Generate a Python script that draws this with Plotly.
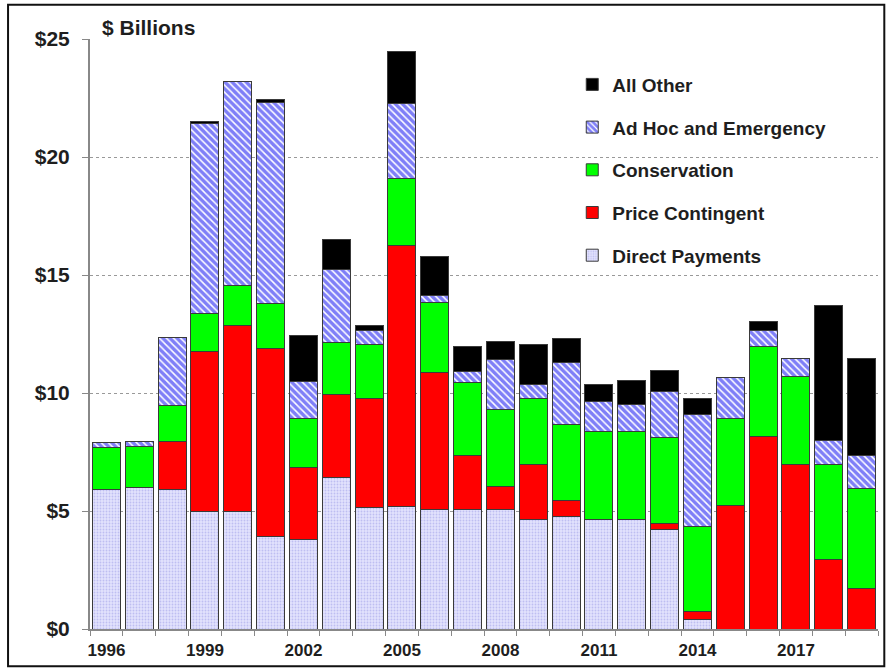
import plotly.graph_objects as go

years = [str(y) for y in range(1996, 2020)]
tick_labels = ["1996", "", "", "1999", "", "", "2002", "", "", "2005", "", "", "2008", "", "",
               "2011", "", "", "2014", "", "", "2017", "", ""]

direct_payments = [5.9, 6.0, 5.9, 5.0, 5.0, 3.9, 3.8, 6.4, 5.15, 5.2, 5.05, 5.05, 5.05, 4.65, 4.75,
                   4.65, 4.65, 4.2, 0.4, 0, 0, 0, 0, 0]
price_contingent = [0, 0, 2.05, 6.75, 7.85, 8.0, 3.05, 3.55, 4.6, 11.05, 5.8, 2.3, 1.0, 2.3, 0.7,
                    0, 0, 0.25, 0.35, 5.25, 8.15, 6.95, 2.95, 1.7]
conservation = [1.8, 1.75, 1.5, 1.6, 1.7, 1.9, 2.05, 2.2, 2.3, 2.85, 3.0, 3.1, 3.25, 2.8, 3.2,
                3.7, 3.7, 3.65, 3.6, 3.65, 3.8, 3.75, 4.0, 4.25]
ad_hoc = [0.2, 0.2, 2.9, 8.05, 8.65, 8.5, 1.6, 3.1, 0.6, 3.15, 0.3, 0.45, 2.1, 0.6, 2.65,
          1.3, 1.15, 1.95, 4.75, 1.75, 0.7, 0.75, 1.05, 1.4]
all_other = [0, 0, 0, 0.1, 0, 0.15, 1.95, 1.25, 0.2, 2.2, 1.65, 1.05, 0.8, 1.7, 1.0,
             0.7, 1.05, 0.9, 0.65, 0, 0.4, 0, 5.7, 4.1]

y_ticks = [0, 5, 10, 15, 20, 25]
y_tick_text = ["$0", "$5", "$10", "$15", "$20", "$25"]


def nz(vals):
    return [v if v else None for v in vals]


FONT = "Liberation Sans, Arial, sans-serif"
TXT = "#1e1e1e"
EDGE = dict(color="#3a3a3a", width=1)

series = [
    ("Direct Payments", direct_payments,
     dict(color="#DCDCFA", line=EDGE,
          pattern=dict(shape=".", fgcolor="#9A9AE6", bgcolor="#E2E2FD", size=3, solidity=0.3))),
    ("Price Contingent", price_contingent, dict(color="#FF0000", line=EDGE)),
    ("Conservation", conservation, dict(color="#00FF00", line=EDGE)),
    ("Ad Hoc and Emergency", ad_hoc,
     dict(color="#0000F0", line=EDGE,
          pattern=dict(shape="\\", fgcolor="#0000F0", bgcolor="#FFFFFF", size=5, solidity=0.7))),
    ("All Other", all_other, dict(color="#000000", line=EDGE)),
]

fig = go.Figure()
n = len(series)
for i, (name, vals, marker) in enumerate(series):
    fig.add_trace(go.Bar(x=years, y=nz(vals), name=name, marker=marker,
                         legendgroup=name, legendrank=n - i))

fig.update_layout(
    width=886, height=670,
    margin=dict(l=90, r=8, t=39, b=41, autoexpand=False),
    barmode="stack", bargap=0.15,
    paper_bgcolor="white", plot_bgcolor="white",
    font=dict(family=FONT, color=TXT),
    showlegend=True,
    legend=dict(x=0.612, y=0.955, xanchor="left", yanchor="top",
                traceorder="grouped", tracegroupgap=15,
                font=dict(family=FONT, size=19, color=TXT, weight="bold"),
                bgcolor="rgba(0,0,0,0)"),
    xaxis=dict(type="category", tickmode="array", tickvals=years, ticktext=tick_labels,
               tickson="boundaries", ticks="outside", ticklen=5, tickcolor="#888",
               tickangle=0, automargin=False, ticklabelstandoff=5,
               showline=True, linecolor="#888", linewidth=2, showgrid=False,
               tickfont=dict(family=FONT, size=17, color=TXT, weight="bold")),
    yaxis=dict(range=[0, 25], tickmode="array", tickvals=y_ticks, ticktext=y_tick_text,
               ticks="outside", ticklen=6, tickcolor="#888", ticklabelstandoff=8,
               automargin=False,
               showline=True, linecolor="#888", linewidth=2,
               showgrid=True, gridcolor="#999", griddash="dot", gridwidth=1,
               zeroline=False,
               tickfont=dict(family=FONT, size=21, color=TXT, weight="bold")),
    annotations=[dict(text="$ Billions", xref="paper", yref="paper", x=0.013, y=1.02,
                      xanchor="left", yanchor="middle", showarrow=False,
                      font=dict(family=FONT, size=21, color=TXT, weight="bold"))],
    shapes=[dict(type="rect", xref="paper", yref="paper",
                 x0=-0.104, x1=1.008, y0=-0.063, y1=1.058,
                 line=dict(color="#111", width=2), fillcolor="rgba(0,0,0,0)", layer="above")],
)

fig.write_html("out.html", config={"displayModeBar": False},
               post_script="document.body.style.margin='0';")
